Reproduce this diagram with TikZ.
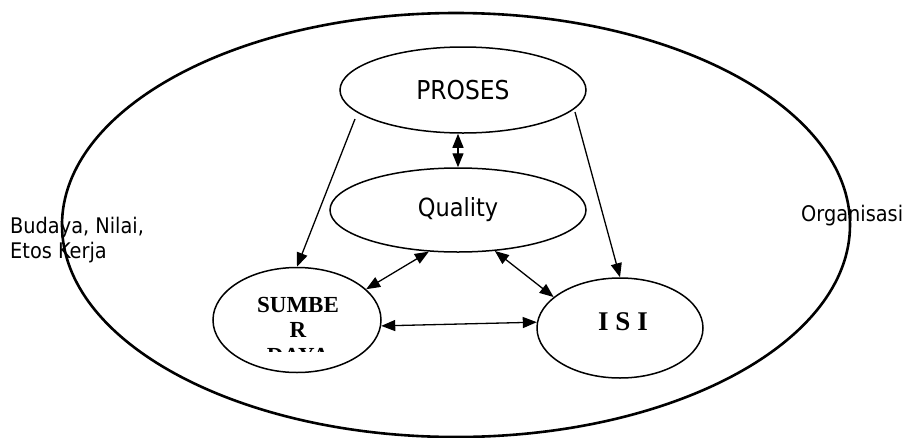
\documentclass[tikz,border=0pt]{standalone}
\usepackage{fontspec}
\setmainfont{DejaVu Sans Condensed}
\newfontfamily\serifb{Liberation Serif}
\usetikzlibrary{arrows.meta,shapes.geometric}
\tikzset{
  oval/.style={draw, ellipse, line width=1.5pt, inner sep=0pt},
  tip/.tip={Triangle[length=14pt,width=11pt]},
  conn/.style={line width=1.3pt, -tip},
  bconn/.style={line width=1.3pt, tip-tip},
  lbl/.style={font=\fontsize{21.5}{25}\selectfont, inner sep=0pt, anchor=west, align=left},
  sbtxt/.style={font=\serifb\bfseries\fontsize{23}{25}\selectfont, inner sep=0pt},
}
\begin{document}
\begin{tikzpicture}[x=1pt,y=-1pt]
\useasboundingbox (0,0) rectangle (906,437);
\fill[white] (0,0) rectangle (906,437);
% outer organisation ellipse
\draw[line width=2.6pt] (456,225) ellipse [x radius=394, y radius=212];
\node[oval, minimum width=246pt, minimum height=86pt] (proses) at (463,90) {};
\node[font=\fontsize{26}{30}\selectfont] (tp) at (proses) {PROSES};
\node[oval, minimum width=256pt, minimum height=84pt] (quality) at (458,210) {};
\node[font=\fontsize{25}{30}\selectfont] (tq) at (quality) {Quality};
\node[oval, minimum width=168pt, minimum height=105pt] (sumber) at (297,320) {};
\node[oval, minimum width=166pt, minimum height=100pt] (isi) at (620,328) {};
% texts in SUMBER
\node[sbtxt] (t1) at (298,305) {SUMBE};
\node[sbtxt] (t2) at (298,330) {R};
\begin{scope}
\clip (240,345) rectangle (360,351);
\node[sbtxt] (t3) at (298,356) {DAYA};
\end{scope}
\node[font=\serifb\bfseries\fontsize{27}{30}\selectfont, inner sep=0pt] (t4) at (623,322) {I S I};
% side labels
\node[lbl] (bud) at (10,240) {Budaya, Nilai,\\Etos Kerja};
\node[lbl] (org) at (801,216) {Organisasi};
% connectors
\coordinate (p1) at (355,119);
\coordinate (p2) at (575,112);
\draw[conn] (p1) -- (sumber.north);
\draw[conn] (p2) -- (isi.north);
\draw[bconn] (quality.north |- proses.south) -- (quality.north);
\draw[bconn] (quality.-125) -- (sumber.24);
\draw[bconn] (quality.-48) -- (isi.155);
\draw[bconn] (sumber.-4) -- (isi.176);
\end{tikzpicture}
\end{document}
